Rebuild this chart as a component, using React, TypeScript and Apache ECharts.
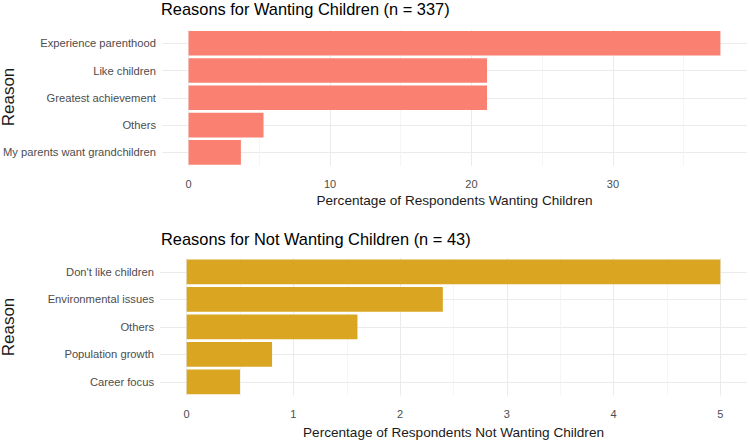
import React, { useEffect, useRef } from "react";
import * as echarts from "echarts";

const wantReasons = ["Experience parenthood", "Like children", "Greatest achievement", "Others", "My parents want grandchildren"];
const wantValues = [37.6, 21.1, 21.1, 5.3, 3.7];
const wantTicks = [0, 10, 20, 30];
const wantMinor = [5, 15, 25, 35];

const notReasons = ["Don't like children", "Environmental issues", "Others", "Population growth", "Career focus"];
const notValues = [5, 2.4, 1.6, 0.8, 0.5];
const notTicks = [0, 1, 2, 3, 4, 5];
const notMinor = [0.5, 1.5, 2.5, 3.5, 4.5];

const FONT = "'Liberation Sans', Arial, sans-serif";
const GRID = "#EBEBEB";

function range(vals: number[]) {
  const mx = Math.max(...vals);
  return { min: -0.05 * mx, max: mx * 1.05 };
}

export default function App() {
  const ref = useRef<HTMLDivElement>(null);
  useEffect(() => {
    if (!ref.current) return;
    const chart = echarts.init(ref.current, null, { renderer: "svg" });
    const r1 = range(wantValues);
    const r2 = range(notValues);
    const valueAxis = (gridIndex: number, r: any, ticks: number[], name: string, gap: number, margin: number) => ({
      type: "value",
      gridIndex,
      position: "bottom",
      min: r.min,
      max: r.max,
      name,
      nameLocation: "middle",
      nameGap: gap,
      nameTextStyle: { fontFamily: FONT, fontSize: 13.6, color: "#1a1a1a" },
      axisLine: { show: false },
      axisTick: { show: false, customValues: ticks },
      axisLabel: { customValues: ticks, fontFamily: FONT, fontSize: 11, color: "#4D4D4D", margin },
      splitLine: { show: true, lineStyle: { color: GRID, width: 1 } },
    });
    const minorAxis = (gridIndex: number, r: any, ticks: number[]) => ({
      type: "value",
      gridIndex,
      position: "bottom",
      min: r.min,
      max: r.max,
      axisLine: { show: false },
      axisTick: { show: false, customValues: ticks },
      axisLabel: { show: false, customValues: ticks },
      splitLine: { show: true, lineStyle: { color: "#F0F0F0", width: 0.7 } },
    });
    const catAxis = (gridIndex: number, data: string[]) => ({
      type: "category",
      gridIndex,
      data,
      inverse: true,
      axisLine: { show: false },
      axisTick: { show: false },
      axisLabel: { fontFamily: FONT, fontSize: 11.2, color: "#4D4D4D", margin: 6 },
      splitLine: { show: true, alignWithLabel: true, lineStyle: { color: GRID, width: 1 } },
    });
    const titleStyle = { fontFamily: FONT, fontSize: 16.4, fontWeight: "normal", color: "#000" };
    chart.setOption({
      animation: false,
      backgroundColor: "#ffffff",
      title: [
        { text: "Reasons for Wanting Children (n = 337)", left: 156, top: -4, textStyle: titleStyle },
        { text: "Reasons for Not Wanting Children (n = 43)", left: 156, top: 226, textStyle: titleStyle },
      ],
      grid: [
        { left: 160, right: 3, top: 29.7, height: 136.3 },
        { left: 160, right: 3, top: 258, height: 137.5 },
      ],
      xAxis: [
        minorAxis(0, r1, wantMinor),
        minorAxis(1, r2, notMinor),
        valueAxis(0, r1, wantTicks, "Percentage of Respondents Wanting Children", 27, 12),
        valueAxis(1, r2, notTicks, "Percentage of Respondents Not Wanting Children", 29.5, 13),
      ],
      yAxis: [catAxis(0, wantReasons), catAxis(1, notReasons)],
      series: [
        { type: "bar", xAxisIndex: 2, yAxisIndex: 0, data: wantValues, barCategoryGap: "10%", itemStyle: { color: "#FA8072" }, silent: true },
        { type: "bar", xAxisIndex: 3, yAxisIndex: 1, data: notValues, barCategoryGap: "10%", itemStyle: { color: "#DAA520" }, silent: true },
      ],
      graphic: [
        { type: "text", x: 8, y: 97, rotation: Math.PI / 2, style: { text: "Reason", fontFamily: FONT, fontSize: 17, fill: "#1a1a1a", textAlign: "center", textVerticalAlign: "middle" } },
        { type: "text", x: 8, y: 327, rotation: Math.PI / 2, style: { text: "Reason", fontFamily: FONT, fontSize: 17, fill: "#1a1a1a", textAlign: "center", textVerticalAlign: "middle" } },
      ],
    });
    return () => chart.dispose();
  }, []);
  return <div ref={ref} style={{ position: "fixed", left: 0, top: 0, width: 750, height: 442 }} />;
}
